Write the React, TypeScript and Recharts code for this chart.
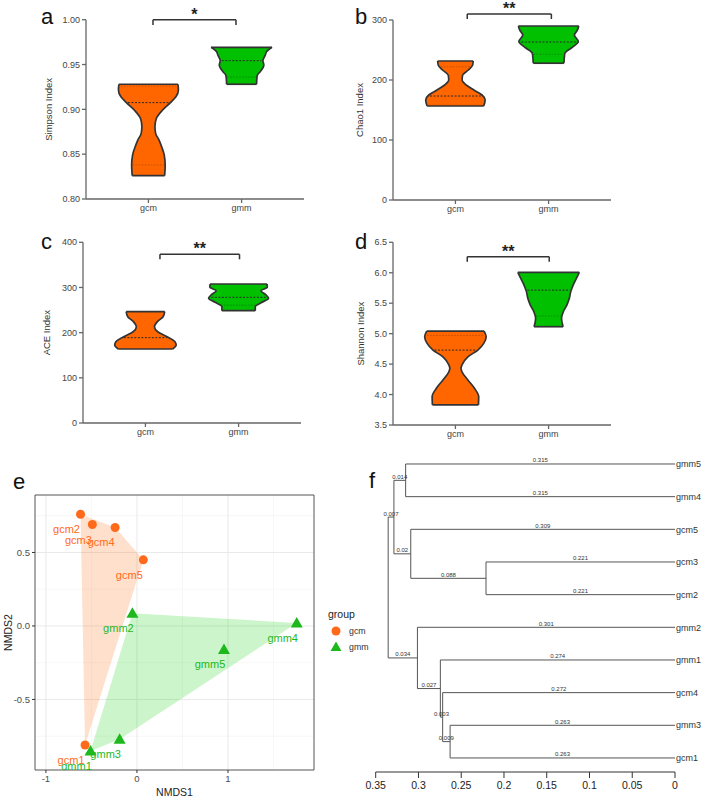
import React from 'react'
import {
  ComposedChart, Area, Line, XAxis, YAxis, ReferenceLine,
  ScatterChart, Scatter, ZAxis, CartesianGrid, ReferenceArea, Legend,
} from 'recharts'

const FONT = '"Liberation Sans", Arial, sans-serif'
const ORANGE = '#ff6600'
const GREEN = '#00c000'
const PT_ORANGE = '#ff6a1a'
const PT_GREEN = '#1cb81c'
const OUTLINE = '#333333'

const groups = ['gcm', 'gmm']

// a - Simpson index (violin half widths, in units of group spacing)
const simpsonLevels = [0.826, 0.838, 0.849, 0.858, 0.866, 0.873, 0.881, 0.89, 0.899, 0.9075, 0.914, 0.922, 0.928, 0.9346, 0.9383, 0.942, 0.9495, 0.9543, 0.9606, 0.9643, 0.9692]
const simpsonGcm = [0.174, 0.18, 0.17, 0.143, 0.113, 0.078, 0.07, 0.086, 0.15, 0.236, 0.295, 0.322, 0.317, null, null, null, null, null, null, null, null]
const simpsonGmm = [null, null, null, null, null, null, null, null, null, null, null, null, 0.161, 0.164, 0.17, 0.2, 0.239, 0.229, 0.255, 0.268, 0.327]
const simpsonMedian = [0.9075, 0.9543]
const simpsonQuart = [[0.838, 0.926], [0.936]]
const simpsonTicks = [0.8, 0.85, 0.9, 0.95, 1.0]

// b - Chao1
const chaoLevels = [156.7, 166.7, 175, 183, 191.7, 200, 208, 216.7, 225, 228, 231.7, 236, 244.4, 254.4, 264, 275, 283, 290]
const chaoGcm = [0.304, 0.319, 0.286, 0.202, 0.116, 0.072, 0.077, 0.139, 0.185, 0.188, 0.191, null, null, null, null, null, null, null]
const chaoGmm = [null, null, null, null, null, null, null, null, null, 0.164, 0.166, 0.168, 0.175, 0.254, 0.319, 0.277, 0.309, 0.324]
const chaoMedian = [173.3, 263.3]
const chaoQuart = [[158, 222], [242.8]]
const chaoTicks = [0, 100, 200, 300]

// c - ACE
const aceLevels = [163.8, 172.7, 180, 191, 202, 213.2, 224.3, 235.3, 246.4, 248.7, 257.5, 266.3, 276, 283.4, 293, 300.4, 307.7]
const aceGcm = [0.292, 0.33, 0.317, 0.233, 0.132, 0.097, 0.129, 0.19, 0.207, null, null, null, null, null, null, null, null]
const aceGmm = [null, null, null, null, null, null, null, null, null, 0.179, 0.179, 0.241, 0.322, 0.295, 0.241, 0.308, 0.306]
const aceMedian = [188.9, 278.2]
const aceQuart = [[], [261]]
const aceTicks = [0, 100, 200, 300, 400]

// d - Shannon
const shannonLevels = [3.83, 3.965, 4.1, 4.24, 4.375, 4.43, 4.485, 4.62, 4.73, 4.84, 4.95, 5.043, 5.114, 5.25, 5.36, 5.47, 5.58, 5.69, 5.8, 5.91, 6.007]
const shannonGcm = [0.247, 0.25, 0.206, 0.134, 0.07, 0.06, 0.07, 0.134, 0.241, 0.304, 0.33, 0.308, null, null, null, null, null, null, null, null, null]
const shannonGmm = [null, null, null, null, null, null, null, null, null, null, null, null, 0.156, 0.139, 0.158, 0.196, 0.223, 0.238, 0.265, 0.3, 0.33]
const shannonMedian = [4.73, 5.715]
const shannonQuart = [[4.97], [5.29]]
const shannonTicks = [3.5, 4.0, 4.5, 5.0, 5.5, 6.0, 6.5]

// e - NMDS
const nmdsNames = ['gcm1', 'gcm2', 'gcm3', 'gcm4', 'gcm5', 'gmm1', 'gmm2', 'gmm3', 'gmm4', 'gmm5']
const nmds1 = [-0.57, -0.62, -0.49, -0.24, 0.07, -0.51, -0.05, -0.19, 1.755, 0.956]
const nmds2 = [-0.81, 0.76, 0.69, 0.67, 0.45, -0.85, 0.086, -0.77, 0.02, -0.16]
const hullGcm = ['gcm2', 'gcm4', 'gcm5', 'gcm1']
const hullGmm = ['gmm2', 'gmm4', 'gmm3', 'gmm1']

// f - clustering tree
const leaves = ['gmm5', 'gmm4', 'gcm5', 'gcm3', 'gcm2', 'gmm2', 'gmm1', 'gcm4', 'gmm3', 'gcm1']
const mergeIds = ['n1', 'n2', 'n3', 'n4', 'n5', 'n6', 'n7', 'n8', 'root']
const mergeLeft = ['gmm5', 'gcm3', 'gcm5', 'n1', 'gmm3', 'gcm4', 'gmm1', 'gmm2', 'n4']
const mergeRight = ['gmm4', 'gcm2', 'n2', 'n3', 'gcm1', 'n5', 'n6', 'n7', 'n8']
const mergeHeight = [0.315, 0.221, 0.309, 0.3287, 0.263, 0.2717, 0.2744, 0.3012, 0.3354]
const distTicks = [0, 0.05, 0.1, 0.15, 0.2, 0.25, 0.3, 0.35]

const W = 340
const H = 225
const PLOT_W = 218
const X_AXIS_H = 22
const Y_AXIS_W = 40

function halfAt(levels: number[], widths: (number | null)[], v: number) {
  for (let i = 0; i < levels.length - 1; i++) {
    const a = widths[i], b = widths[i + 1]
    if (a == null || b == null) continue
    if (v >= levels[i] && v <= levels[i + 1]) {
      const t = (v - levels[i]) / (levels[i + 1] - levels[i])
      return a + (b - a) * t
    }
  }
  return 0
}

type Bracket = { y: number; tip: number; x1: number; x2: number; text: string }

function ViolinPanel(p: any) {
  const rows = p.levels.map((v: number, i: number) => ({
    v,
    gcm: p.gcm[i] == null ? undefined : [1 - p.gcm[i], 1 + p.gcm[i]],
    gmm: p.gmm[i] == null ? undefined : [2 - p.gmm[i], 2 + p.gmm[i]],
  }))
  const refs: any[] = []
  ;[p.gcm, p.gmm].forEach((w: (number | null)[], gi: number) => {
    const c = gi + 1
    const idx = w.map((x, i) => (x == null ? -1 : i)).filter((i) => i >= 0)
    ;[idx[0], idx[idx.length - 1]].forEach((i) => {
      refs.push(
        <ReferenceLine key={`cap${gi}-${i}`} ifOverflow="visible" stroke={OUTLINE} strokeWidth={1.7}
          segment={[{ x: c - (w[i] as number), y: p.levels[i] }, { x: c + (w[i] as number), y: p.levels[i] }]} />
      )
    })
    const m = p.medians[gi]
    const hm = halfAt(p.levels, w, m) * 0.93
    refs.push(
      <ReferenceLine key={`med${gi}`} ifOverflow="visible" stroke="#2a2a2a" strokeWidth={1} strokeDasharray="2 1.5"
        segment={[{ x: c - hm, y: m }, { x: c + hm, y: m }]} />
    )
    p.quart[gi].forEach((q: number, k: number) => {
      const hq = halfAt(p.levels, w, q) * 0.93
      refs.push(
        <ReferenceLine key={`q${gi}-${k}`} ifOverflow="visible" stroke={gi ? '#006600' : '#9a3d00'} strokeOpacity={0.55}
          strokeWidth={1} strokeDasharray="1.5 1.5" segment={[{ x: c - hq, y: q }, { x: c + hq, y: q }]} />
      )
    })
  })
  const b: Bracket = p.bracket
  const midY = (p.plotTop + p.plotBottom) / 2
  const axisStyle = { fontSize: 9, fill: '#444' }
  return (
    <div style={{ position: 'absolute', left: p.left, top: p.top }}>
      <ComposedChart layout="vertical" width={W} height={H} data={rows}
        margin={{ top: p.plotTop, left: p.axisX - Y_AXIS_W, right: W - p.axisX - PLOT_W, bottom: H - p.plotBottom - X_AXIS_H }}>
        <XAxis type="number" domain={[0.33, 2.67]} ticks={[1, 2]} tickFormatter={(v) => groups[v - 1]} allowDataOverflow
          height={X_AXIS_H} stroke="#666" strokeWidth={1.3} tick={axisStyle} tickSize={4} tickMargin={2} interval={0} />
        <YAxis type="number" dataKey="v" reversed domain={[p.ticks[0], p.ticks[p.ticks.length - 1]]} ticks={p.ticks} allowDataOverflow
          tickFormatter={(v) => Number(v).toFixed(p.digits)} width={Y_AXIS_W} stroke="#666" strokeWidth={1.3}
          tick={axisStyle} tickSize={4} tickMargin={2} interval={0}
          label={() => (
            <text x={p.titleX} y={midY} transform={`rotate(-90 ${p.titleX} ${midY})`} textAnchor="middle"
              dominantBaseline="central" fontSize={9.5} fill="#333">{p.title}</text>
          )} />
        <Area dataKey="gcm" type="monotone" fill={ORANGE} fillOpacity={1} stroke="none" isAnimationActive={false} activeDot={false} />
        <Area dataKey="gmm" type="monotone" fill={GREEN} fillOpacity={1} stroke="none" isAnimationActive={false} activeDot={false} />
        <Line dataKey={(r: any) => r.gcm?.[0]} type="monotone" stroke={OUTLINE} strokeWidth={1.7} dot={false} activeDot={false} isAnimationActive={false} />
        <Line dataKey={(r: any) => r.gcm?.[1]} type="monotone" stroke={OUTLINE} strokeWidth={1.7} dot={false} activeDot={false} isAnimationActive={false} />
        <Line dataKey={(r: any) => r.gmm?.[0]} type="monotone" stroke={OUTLINE} strokeWidth={1.7} dot={false} activeDot={false} isAnimationActive={false} />
        <Line dataKey={(r: any) => r.gmm?.[1]} type="monotone" stroke={OUTLINE} strokeWidth={1.7} dot={false} activeDot={false} isAnimationActive={false} />
        {refs}
        <ReferenceLine ifOverflow="visible" stroke="#333" strokeWidth={1.5}
          segment={[{ x: b.x1, y: b.y }, { x: b.x2, y: b.y }]}
          label={{ value: b.text, position: 'top', fontSize: 16, fontWeight: 'bold', fill: '#222', offset: 0 }} />
        <ReferenceLine ifOverflow="visible" stroke="#333" strokeWidth={1.5} segment={[{ x: b.x1, y: b.y }, { x: b.x1, y: b.tip }]} />
        <ReferenceLine ifOverflow="visible" stroke="#333" strokeWidth={1.5} segment={[{ x: b.x2, y: b.y }, { x: b.x2, y: b.tip }]} />
      </ComposedChart>
    </div>
  )
}

function NmdsPanel() {
  const pts = nmdsNames.map((name, i) => ({ name, x: nmds1[i], y: nmds2[i] }))
  const find = (n: string) => pts.find((q) => q.name === n)
  const gcmPts = pts.filter((q) => q.name.startsWith('gcm'))
  const gmmPts = pts.filter((q) => q.name.startsWith('gmm'))
  const mark = (color: string, kind: string) => (sp: any) => {
    const { cx, cy, payload } = sp
    return (
      <g>
        {kind === 'circle'
          ? <circle cx={cx} cy={cy} r={4.5} fill={color} />
          : <polygon points={`${cx},${cy - 6} ${cx - 6},${cy + 4.5} ${cx + 6},${cy + 4.5}`} fill={color} />}
        <text x={cx - 14} y={cy + 19} textAnchor="middle" fontSize={11} fill={color}>{payload.name}</text>
      </g>
    )
  }
  const tick = { fontSize: 9.5, fill: '#4d4d4d' }
  return (
    <div style={{ position: 'absolute', left: 0, top: 470 }}>
      <ScatterChart width={380} height={328} margin={{ top: 25, right: 66, bottom: 0, left: 0 }}>
        <CartesianGrid verticalValues={[-0.5, 0.5, 1.5]} horizontalValues={[-0.75, -0.25, 0.25, 0.75]} stroke="#f4f4f4" strokeWidth={0.7} />
        <CartesianGrid verticalValues={[-1, 0, 1]} horizontalValues={[-0.5, 0, 0.5]} stroke="#e9e9e9" strokeWidth={1} />
        <XAxis type="number" dataKey="x" domain={[-1.12, 1.945]} ticks={[-1, 0, 1]} allowDataOverflow height={28}
          axisLine={false} tickSize={3} tickMargin={2} stroke="#333" tick={tick} interval={0}
          label={() => <text x={174.5} y={326} textAnchor="middle" fontSize={10.5} fill="#222">NMDS1</text>} />
        <YAxis type="number" dataKey="y" domain={[-0.98, 0.891]} ticks={[-0.5, 0, 0.5]} allowDataOverflow width={35}
          tickFormatter={(v) => Number(v).toFixed(1)} axisLine={false} tickSize={3} tickMargin={2} stroke="#333" tick={tick} interval={0}
          label={() => <text x={8} y={162.5} transform="rotate(-90 8 162.5)" textAnchor="middle" dominantBaseline="central" fontSize={10.5} fill="#222">NMDS2</text>} />
        <ZAxis range={[60, 60]} />
        <ReferenceArea x1={-1.12} x2={1.945} y1={-0.98} y2={0.891} fill="none" stroke="#555" strokeWidth={1} ifOverflow="visible" />
        <Scatter data={hullGcm.map(find)} fill={ORANGE} shape={() => <g />} line={{ fill: ORANGE, fillOpacity: 0.2, stroke: 'none' }}
          lineType="joint" legendType="none" isAnimationActive={false} />
        <Scatter data={hullGmm.map(find)} fill={GREEN} shape={() => <g />} line={{ fill: '#00cc00', fillOpacity: 0.2, stroke: 'none' }}
          lineType="joint" legendType="none" isAnimationActive={false} />
        <Scatter data={gcmPts} fill={PT_ORANGE} shape={mark(PT_ORANGE, 'circle')} isAnimationActive={false} />
        <Scatter data={gmmPts} fill={PT_GREEN} shape={mark(PT_GREEN, 'triangle')} isAnimationActive={false} />
        <Legend layout="horizontal" verticalAlign="middle" align="center"
          wrapperStyle={{ left: 328, top: 138, width: 60 }}
          content={() => (
            <div style={{ fontFamily: FONT, color: '#222' }}>
              <div style={{ fontSize: 10.5, marginBottom: 3 }}>group</div>
              {groups.map((g, i) => (
                <div key={g} style={{ display: 'flex', alignItems: 'center', height: 16, fontSize: 8.8, color: '#333' }}>
                  <svg width={16} height={14}>
                    {i === 0
                      ? <circle cx={8} cy={7} r={4.5} fill={PT_ORANGE} />
                      : <polygon points="8,1.5 2.5,11 13.5,11" fill={PT_GREEN} />}
                  </svg>
                  <span style={{ marginLeft: 5 }}>{g}</span>
                </div>
              ))}
            </div>
          )} />
      </ScatterChart>
    </div>
  )
}

function TreePanel() {
  const nodes: Record<string, { h: number; y: number }> = {}
  leaves.forEach((n, i) => { nodes[n] = { h: 0, y: i } })
  mergeIds.forEach((id, k) => {
    const a = nodes[mergeLeft[k]], b = nodes[mergeRight[k]]
    nodes[id] = { h: mergeHeight[k], y: (a.y + b.y) / 2 }
  })
  const fmt = (v: number) => String(Number(v.toFixed(3)))
  const segs: any[] = []
  mergeIds.forEach((id, k) => {
    const n = nodes[id]
    const a = nodes[mergeLeft[k]], b = nodes[mergeRight[k]]
    segs.push(<ReferenceLine key={id + 'v'} ifOverflow="visible" stroke="#555" strokeWidth={1}
      segment={[{ x: n.h, y: a.y }, { x: n.h, y: b.y }]} />)
    ;[a, b].forEach((c, j) => {
      segs.push(<ReferenceLine key={id + 'h' + j} ifOverflow="visible" stroke="#555" strokeWidth={1}
        segment={[{ x: n.h, y: c.y }, { x: c.h, y: c.y }]}
        label={{ value: fmt(n.h - c.h), position: 'top', fontSize: 6, fill: '#333', offset: 1.5 }} />)
    })
  })
  const leafRows = leaves.map((name, i) => ({ i, h: 0, name }))
  return (
    <div style={{ position: 'absolute', left: 360, top: 440 }}>
      <ComposedChart width={342} height={358} data={leafRows} margin={{ top: 14.2, right: 0, bottom: 0, left: 15.7 }}>
        <XAxis type="number" dataKey="h" domain={[0, 0.35]} reversed ticks={distTicks} allowDataOverflow interval={0}
          tickFormatter={(v) => String(Number(Number(v).toFixed(2)))} height={26} stroke="#333" tickSize={6} tickMargin={4}
          tick={{ fontSize: 10.5, fill: '#222' }} />
        <YAxis type="number" dataKey="i" orientation="right" reversed domain={[-0.3, 9.43]} allowDataOverflow
          ticks={leaves.map((_, i) => i)} tickFormatter={(i) => leaves[i]} interval={0} width={27}
          axisLine={false} tickLine={false} tickSize={0} tickMargin={1} tick={{ fontSize: 9, fill: '#333' }} />
        {segs}
      </ComposedChart>
    </div>
  )
}

const letter = (t: string, left: number, top: number) => (
  <span key={t} style={{ position: 'absolute', left, top, fontSize: 22, lineHeight: '22px', color: '#111' }}>{t}</span>
)

export default function App() {
  return (
    <div style={{ position: 'relative', width: 702, height: 798, background: '#fff', fontFamily: FONT, overflow: 'hidden' }}>
      <style>{'body{margin:0}'}</style>
      <ViolinPanel left={0} top={0} axisX={86} plotTop={19.7} plotBottom={199} titleX={49} title="Simpson Index"
        levels={simpsonLevels} gcm={simpsonGcm} gmm={simpsonGmm} medians={simpsonMedian} quart={simpsonQuart}
        ticks={simpsonTicks} digits={2} bracket={{ y: 1.0, tip: 0.994, x1: 1.049, x2: 1.94, text: '*' }} />
      <ViolinPanel left={350} top={0} axisX={43} plotTop={20} plotBottom={200} titleX={9} title="Chao1 Index"
        levels={chaoLevels} gcm={chaoGcm} gmm={chaoGmm} medians={chaoMedian} quart={chaoQuart}
        ticks={chaoTicks} digits={0} bracket={{ y: 310, tip: 301.7, x1: 1.127, x2: 2.03, text: '**' }} />
      <ViolinPanel left={0} top={225} axisX={83} plotTop={17.3} plotBottom={198} titleX={47} title="ACE Index"
        levels={aceLevels} gcm={aceGcm} gmm={aceGmm} medians={aceMedian} quart={aceQuart}
        ticks={aceTicks} digits={0} bracket={{ y: 373.5, tip: 362.4, x1: 1.156, x2: 2.01, text: '**' }} />
      <ViolinPanel left={350} top={225} axisX={43} plotTop={17.3} plotBottom={200} titleX={11} title="Shannon Index"
        levels={shannonLevels} gcm={shannonGcm} gmm={shannonGmm} medians={shannonMedian} quart={shannonQuart}
        ticks={shannonTicks} digits={1} bracket={{ y: 6.264, tip: 6.18, x1: 1.127, x2: 2.007, text: '**' }} />
      <NmdsPanel />
      <TreePanel />
      {letter('a', 41, 6)}
      {letter('b', 355, 6)}
      {letter('c', 41, 231)}
      {letter('d', 355, 231)}
      {letter('e', 13, 471)}
      {letter('f', 369, 470)}
    </div>
  )
}
